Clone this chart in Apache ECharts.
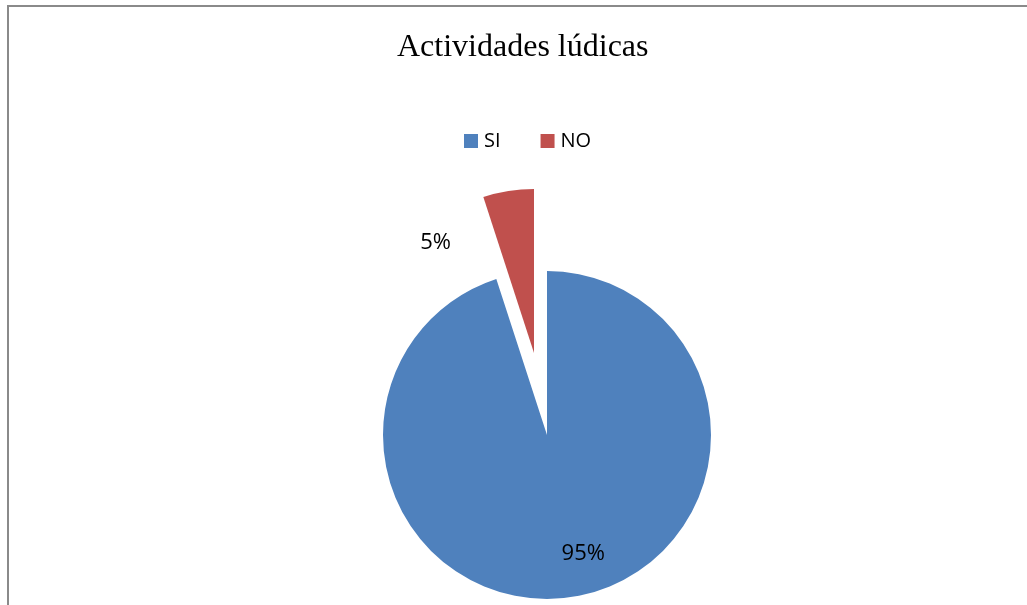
<!DOCTYPE html>
<html>
<head>
<meta charset="utf-8">
<script src="https://cdn.jsdelivr.net/npm/echarts@6/dist/echarts.min.js"></script>
<style>
html,body{margin:0;padding:0;background:#fff;}
#chart{width:1027px;height:605px;}
</style>
</head>
<body>
<div id="chart"></div>
<script>
const titleText = 'Actividades lúdicas';
const categories = ['SI', 'NO'];
const values = [95, 5];
const colors = ['#4F81BD', '#C0504D'];

const chart = echarts.init(document.getElementById('chart'), null, {renderer: 'canvas'});
const labelOffsets = [[23, 35], [-73, -28]];
function lbl(i) {
  return {
    show: true,
    position: 'inside',
    formatter: '{d}%',
    offset: labelOffsets[i],
    fontFamily: 'Open Sans',
    fontSize: 22,
    color: '#000'
  };
}
chart.setOption({
  animation: false,
  backgroundColor: '#ffffff',
  graphic: [{
    type: 'rect',
    shape: {x: 8, y: 6, width: 1200, height: 800},
    style: {fill: 'none', stroke: '#8a8a8a', lineWidth: 2},
    silent: true
  }],
  title: {
    text: titleText,
    left: 397,
    top: 32,
    padding: 0,
    textStyle: {fontFamily: 'Liberation Serif', fontWeight: 'normal', fontSize: 32, color: '#000'}
  },
  legend: {
    data: categories,
    left: 464,
    top: 131,
    padding: 0,
    icon: 'rect',
    itemWidth: 14,
    itemHeight: 14,
    itemGap: 40,
    selectedMode: false,
    textStyle: {fontFamily: 'Open Sans', fontSize: 20, color: '#000', padding: [0, 0, 0, 1]}
  },
  series: [{
    type: 'pie',
    center: [547, 435],
    radius: 164,
    startAngle: 90,
    clockwise: true,
    selectedMode: 'single',
    selectedOffset: 83,
    avoidLabelOverlap: false,
    labelLine: {show: false},
    emphasis: {disabled: true},
    itemStyle: {borderWidth: 0},
    data: categories.map((c, i) => ({
      name: c,
      value: values[i],
      selected: i === 1,
      itemStyle: {color: colors[i]},
      label: lbl(i),
      select: {label: lbl(i), itemStyle: {color: colors[i]}}
    }))
  }]
});
</script>
</body>
</html>
